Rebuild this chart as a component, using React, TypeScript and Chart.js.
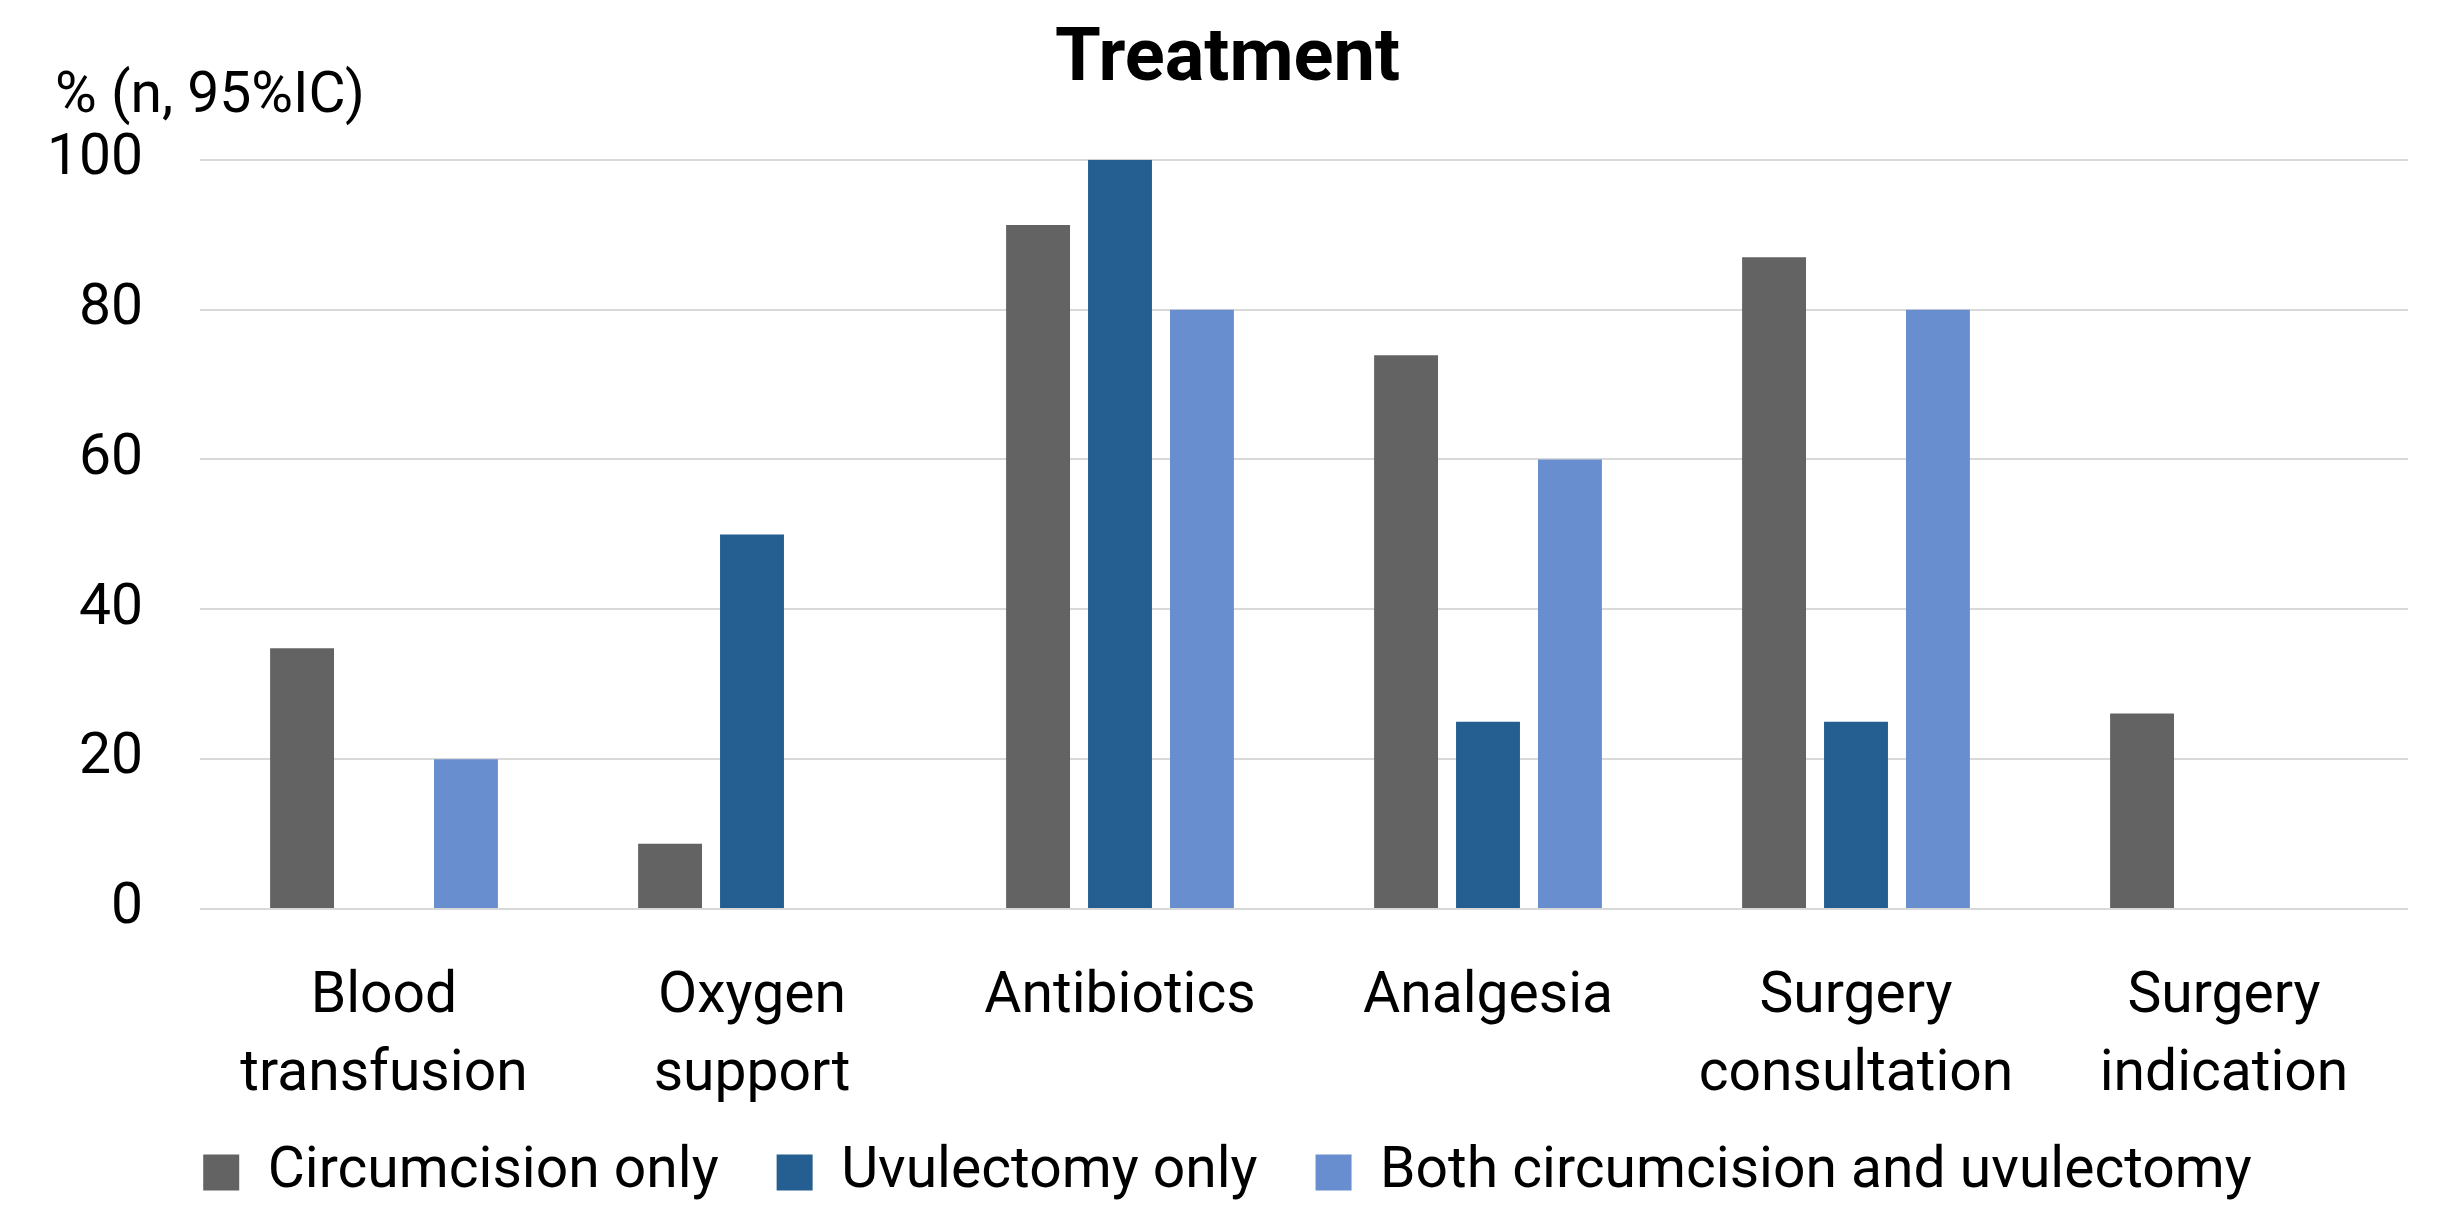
import React, { useEffect, useRef } from "react";
import { Chart, registerables } from "chart.js";

Chart.register(...registerables);

// ---- data ----
const categories: string[][] = [
  ["Blood", "transfusion"],
  ["Oxygen", "support"],
  ["Antibiotics"],
  ["Analgesia"],
  ["Surgery", "consultation"],
  ["Surgery", "indication"],
];
const seriesNames = ["Circumcision only", "Uvulectomy only", "Both circumcision and uvulectomy"];
const circumcisionOnly = [34.8, 8.7, 91.3, 73.9, 87.0, 26.1];
const uvulectomyOnly = [0, 50, 100, 25, 25, 0];
const bothProcedures = [20, 0, 80, 60, 80, 0];
const yTickValues = [0, 20, 40, 60, 80, 100];
const titleText = "Treatment";
const yAxisLabel = "% (n, 95%IC)";

// ---- style ----
const W = 2441;
const H = 1206;
const FONT = "Roboto";
const colors = ["#636363", "#255E91", "#698ECF"];
const LEGEND_HEIGHT = 91;
const LEGEND_SHIFT_UP = 29;
const X_AXIS_HEIGHT = 206;
const Y_AXIS_WIDTH = 153;

const legendFitPlugin = {
  id: "legendFit",
  beforeLayout(chart: any) {
    const lg = chart.legend;
    if (lg && !lg.__patched) {
      const orig = lg.fit;
      lg.fit = function () {
        orig.call(this);
        this.height = LEGEND_HEIGHT;
      };
      lg.__patched = true;
    }
  },
  afterLayout(chart: any) {
    const lg = chart.legend;
    if (lg) {
      lg.top -= LEGEND_SHIFT_UP;
    }
  },
};

const yLabelPlugin = {
  id: "yLabel",
  afterDraw(chart: any) {
    const { ctx, chartArea } = chart;
    ctx.save();
    ctx.font = `57px ${FONT}`;
    ctx.fillStyle = "#000";
    ctx.textAlign = "left";
    ctx.textBaseline = "alphabetic";
    ctx.fillText(yAxisLabel, chart.scales.y.left + 8, chartArea.top - 48);
    ctx.restore();
  },
};

export default function App() {
  const ref = useRef<HTMLCanvasElement>(null);

  useEffect(() => {
    if (!ref.current) return;
    const data = [circumcisionOnly, uvulectomyOnly, bothProcedures];
    const chart = new Chart(ref.current, {
      type: "bar",
      data: {
        labels: categories,
        datasets: seriesNames.map((name, i) => ({
          label: name,
          data: data[i],
          backgroundColor: colors[i],
          borderWidth: 0,
          categoryPercentage: 0.668,
          barPercentage: 0.78,
        })),
      },
      options: {
        responsive: false,
        animation: false,
        devicePixelRatio: 1,
        layout: { padding: { left: 47, right: 33, top: 0, bottom: 0 } },
        plugins: {
          title: {
            display: true,
            text: titleText,
            color: "#000",
            font: { family: FONT, size: 74, weight: "bold", lineHeight: 1.2 },
            padding: { top: 17, bottom: 54 },
          },
          legend: {
            display: true,
            position: "bottom",
            labels: {
              color: "#000",
              font: { family: FONT, size: 57 },
              boxWidth: 36,
              boxHeight: 36,
              padding: 58,
            },
          },
          tooltip: { enabled: false },
        },
        scales: {
          x: {
            grid: { display: false, drawTicks: false },
            border: { display: false },
            ticks: {
              color: "#000",
              font: { family: FONT, size: 57, lineHeight: 1.37 },
              padding: 50,
              maxRotation: 0,
              autoSkip: false,
            },
            afterFit: (scale: any) => {
              scale.height = X_AXIS_HEIGHT;
            },
          },
          y: {
            min: 0,
            max: 100,
            grid: { color: "#D9D9D9", lineWidth: 2, drawTicks: false },
            border: { display: false },
            afterBuildTicks: (scale: any) => {
              scale.ticks = yTickValues.map((v) => ({ value: v }));
            },
            afterFit: (scale: any) => {
              scale.width = Y_AXIS_WIDTH;
            },
            ticks: {
              color: "#000",
              font: { family: FONT, size: 57 },
              padding: 57,
            },
          },
        },
      },
      plugins: [legendFitPlugin, yLabelPlugin],
    });
    return () => chart.destroy();
  }, []);

  return (
    <div style={{ position: "absolute", left: 0, top: 0, width: W, height: H, background: "#fff" }}>
      <canvas ref={ref} width={W} height={H} style={{ display: "block" }} />
    </div>
  );
}
